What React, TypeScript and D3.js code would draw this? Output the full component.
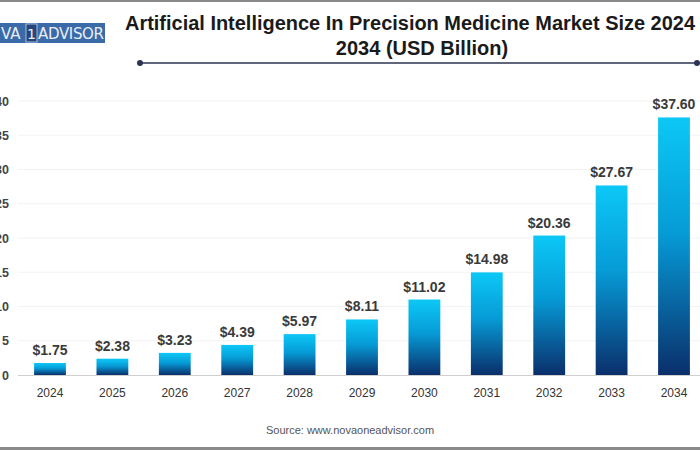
import React from "react";
import * as d3 from "d3";

const years = ["2024","2025","2026","2027","2028","2029","2030","2031","2032","2033","2034"];
const values = [1.75, 2.38, 3.23, 4.39, 5.97, 8.11, 11.02, 14.98, 20.36, 27.67, 37.6];
const yTicks = [0, 5, 10, 15, 20, 25, 30, 35, 40];
const titleLines = ["Artificial Intelligence In Precision Medicine Market Size 2024", "2034 (USD Billion)"];
const sourceText = "Source: www.novaoneadvisor.com";

export default function App() {
  const W = 700, H = 450;
  const x = d3.scaleBand<string>().domain(years).range([18.8, 705.2]).paddingInner(0.49).paddingOuter(0.245);
  const y = d3.scaleLinear().domain([0, 40]).range([375, 101]);
  const font = "'Liberation Sans', Arial, sans-serif";
  return (
    <svg width={W} height={H} style={{ position: "absolute", left: 0, top: 0, background: "#fff" }} fontFamily={font}>
      <defs>
        <linearGradient id="barGrad" x1="0" y1="0" x2="0" y2="1">
          <stop offset="0%" stopColor="#0cc8f6" />
          <stop offset="45%" stopColor="#069bd6" />
          <stop offset="100%" stopColor="#0a2f6b" />
        </linearGradient>
      </defs>
      <rect x={0} y={0} width={W} height={H} fill="#fff" />
      <rect x={0} y={0} width={W} height={2} fill="#8a8a8a" />
      <rect x={0} y={447} width={W} height={3} fill="#8a8a8a" />
      {/* logo */}
      <rect x={0} y={23} width={105} height={20} fill="#3b6aa8" />
      <text x={1} y={39} fontSize={15} fill="#e8eef8" fontFamily="'DejaVu Sans', sans-serif">VA</text>
      <rect x={26} y={24} width={11} height={18} fill="#24467c" stroke="#c9d6ea" strokeWidth={0.8} />
      <text x={31.5} y={39} fontSize={14} fill="#e8eef8" textAnchor="middle" fontFamily="'DejaVu Sans', sans-serif">1</text>
      <text x={38} y={39} fontSize={15} fill="#e8eef8" fontFamily="'DejaVu Sans', sans-serif" textLength={66}>ADVISOR</text>
      {/* title */}
      <text x={125} y={30} fontSize={20} fontWeight="bold" fill="#1a1a1a" textLength={570} lengthAdjust="spacingAndGlyphs">{titleLines[0]}</text>
      <text x={422} y={55} fontSize={20} fontWeight="bold" fill="#1a1a1a" textAnchor="middle">{titleLines[1]}</text>
      <line x1={140} x2={697} y1={63} y2={63} stroke="#2b3452" strokeWidth={1.6} />
      <circle cx={140} cy={63} r={3} fill="#2b3452" />
      <circle cx={697} cy={63} r={3} fill="#2b3452" />
      {/* grid */}
      {yTicks.filter(t => t > 0).map(t => (
        <line key={t} x1={18} x2={700} y1={y(t)} y2={y(t)} stroke="#f3f3f3" strokeWidth={1} />
      ))}
      {yTicks.map(t => (
        <text key={"yt" + t} x={9} y={y(t) + 4.5} fontSize={12.5} fontWeight="bold" fill="#444" textAnchor="end">{t}</text>
      ))}
      <line x1={18} x2={700} y1={y(0) + 0.5} y2={y(0) + 0.5} stroke="#cfcfcf" strokeWidth={1} />
      {years.map((yr, i) => (
        <g key={yr}>
          <rect x={x(yr)!} y={y(values[i])} width={x.bandwidth()} height={y(0) - y(values[i])} fill="url(#barGrad)" />
          <text x={x(yr)! + x.bandwidth() / 2} y={y(values[i]) - 8} fontSize={14} fill="#3a3a3a" textAnchor="middle" fontWeight={600}>
            ${values[i].toFixed(2)}
          </text>
          <text x={x(yr)! + x.bandwidth() / 2} y={397} fontSize={12} fill="#333" textAnchor="middle">{yr}</text>
        </g>
      ))}
      <text x={350} y={434} fontSize={11} fill="#555" textAnchor="middle">{sourceText}</text>
    </svg>
  );
}
